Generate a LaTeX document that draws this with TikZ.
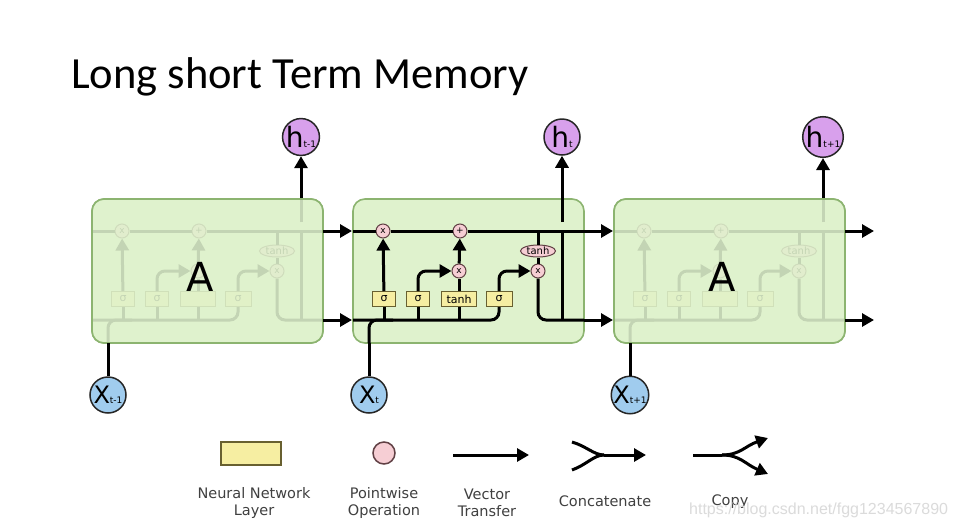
\documentclass[tikz,border=0pt]{standalone}
\usepackage{fontspec}
\setmainfont{DejaVu Sans}
\newfontfamily\titlefont{Carlito}
\newfontfamily\markfont{Liberation Sans}
\usetikzlibrary{arrows.meta,shapes.geometric}

\definecolor{cellfill}{RGB}{223,242,205}
\definecolor{cellline}{RGB}{140,180,112}
\definecolor{layerfill}{RGB}{246,238,162}
\definecolor{layerline}{RGB}{104,96,48}
\definecolor{pwfill}{RGB}{246,206,212}
\definecolor{pwline}{RGB}{96,64,68}
\definecolor{hfill}{RGB}{216,160,236}
\definecolor{xfill}{RGB}{160,204,238}
\definecolor{legtext}{RGB}{64,64,64}

\tikzset{
  cell/.style={draw=cellline, fill=cellfill, line width=1.6pt, rounded corners=12pt,
    minimum width=231pt, minimum height=144pt, inner sep=0pt},
  layer/.style={draw=layerline, fill=layerfill, line width=1pt, minimum width=23pt,
    minimum height=15pt, inner sep=0pt, font=\fontsize{11}{11}\selectfont},
  pw/.style={circle, draw=pwline, fill=pwfill, line width=1pt, minimum size=14pt,
    inner sep=0pt, font=\fontsize{9}{9}\selectfont},
  pwtanh/.style={ellipse, draw=pwline, fill=pwfill, line width=1pt, minimum width=35pt,
    minimum height=12pt, inner sep=0pt, font=\fontsize{10}{10}\selectfont},
  hnode/.style={circle, draw=black!85, fill=hfill, line width=1.5pt, minimum size=36pt, inner sep=0pt},
  xnode/.style={circle, draw=black!85, fill=xfill, line width=1.5pt, minimum size=36pt, inner sep=0pt},
  flow/.style={line width=3pt},
  tip/.style={-{Triangle[length=12pt,width=13pt]}},
  legend/.style={text=legtext, font=\fontsize{14.5}{17.5}\selectfont, align=center, inner sep=0pt}
}

\begin{document}
\begin{tikzpicture}[x=1pt,y=-1pt]
\fill[white] (0,0) rectangle (954,531);
\useasboundingbox (0,0) rectangle (954,531);

\node[anchor=base west, inner sep=0pt, font=\titlefont\fontsize{44.5}{44.5}\selectfont] (title) at (71,88) {Long short Term Memory};

% the three cells
\foreach \nm/\x in {p/92, m/353, n/614}
  \node[cell] (\nm-box) at (\x+115.5,271) {};

% inside of a cell
\foreach \nm/\x/\gl/\il in {p/92/{}/{}, m/353/tanh/x, n/614/{}/{}} {
  \node[pw] (\nm-f) at (\x+30,231) {x};
  \node[pw] (\nm-add) at (\x+107,231) {+};
  \node[pw] (\nm-i) at (\x+106,271) {\il};
  \node[pwtanh] (\nm-tc) at (\x+185,251) {tanh};
  \node[pw] (\nm-o) at (\x+185,271) {x};
  \node[layer] (\nm-s1) at (\x+31,299) {σ};
  \node[layer] (\nm-s2) at (\x+65,299) {σ};
  \node[layer, minimum width=35pt] (\nm-g) at (\x+106,299) {\gl};
  \node[layer, minimum width=26pt] (\nm-s3) at (\x+146,299) {σ};
  \coordinate (\nm-tl) at (\x,231);
  \coordinate (\nm-tr) at (\x+231,231);
  \coordinate (\nm-bl) at (\x,320);
  \coordinate (\nm-br) at (\x+231,320);
  \coordinate (\nm-hb) at (\x+209,320);
  \coordinate (\nm-hc) at (\x+209,231);
  \coordinate (\nm-hg) at (\x+209,222);
  \coordinate (\nm-xb) at (\x+16,343);
  \coordinate (\nm-xm) at (\x+40,320);
  \draw[flow] (\nm-tl) -- (\nm-f) -- (\nm-add) -- (\nm-tr);
  \draw[flow, tip] (\nm-s1) -- (\nm-f);
  \draw[flow, tip, rounded corners=8pt] (\nm-s2) |- (\nm-i);
  \draw[flow] (\nm-g) -- (\nm-i);
  \draw[flow, tip] (\nm-i) -- (\nm-add);
  \draw[flow] (\nm-tc.north) -- (\nm-tc.north |- \nm-tl);
  \draw[flow] (\nm-tc) -- (\nm-o);
  \draw[flow, tip, rounded corners=8pt] (\nm-s3) |- (\nm-o);
  \draw[flow, rounded corners=8pt] (\nm-o) |- (\nm-br);
  \draw[flow, rounded corners=8pt] (\nm-bl) -| (\nm-s3);
  \draw[flow] (\nm-s1) -- (\nm-s1 |- \nm-bl);
  \draw[flow] (\nm-s2) -- (\nm-s2 |- \nm-bl);
  \draw[flow] (\nm-g) -- (\nm-g |- \nm-bl);
  \draw[flow] (\nm-hb) -- (\nm-hc);
  \draw[flow] (\nm-hg) -- (\nm-box.north -| \nm-hg);
  \draw[flow, rounded corners=8pt] (\nm-xb) |- (\nm-xm);
}

% the cells on the sides are covered
\foreach \nm in {p, n} {
  \node[cell, fill opacity=0.88] (\nm-cover) at (\nm-box) {};
  \node[font=\fontsize{40}{40}\selectfont] (\nm-a) at ([xshift=-7pt,yshift=-6pt]\nm-box.center) {A};
}

% inputs, outputs and arrows between cells
\foreach \nm/\x/\s in {p/92/t-1, m/353/t, n/614/t+1} {
  \coordinate (\nm-to) at (\x+260,231);
  \coordinate (\nm-bo) at (\x+260,320);
  \draw[flow, tip] (\nm-tr) -- (\nm-to);
  \draw[flow, tip] (\nm-br) -- (\nm-bo);
  \node[hnode] (h-\nm) at (\x+209,137) {{\fontsize{28}{28}\selectfont h}{\fontsize{9}{9}\selectfont \s}};
  \node[xnode] (x-\nm) at (\x+16,395) {{\fontsize{24}{24}\selectfont X}{\fontsize{9}{9}\selectfont \s}};
  \draw[flow, tip] (\nm-box.north -| \nm-hg) -- (h-\nm);
  \draw[flow] (x-\nm) -- (\nm-xb);
}

% legend
\node[layer, minimum width=60pt, minimum height=23pt, line width=2pt] (lg-layer) at (251,453) {};
\node[pw, minimum size=22pt, line width=1.5pt] (lg-pw) at (384,453) {};
\coordinate (lg-va) at (453,455);
\coordinate (lg-vb) at (529,455);
\draw[flow, tip] (lg-va) -- (lg-vb);
\coordinate (lg-ca) at (572,442);
\coordinate (lg-cb) at (572,470);
\coordinate (lg-cm) at (604,455);
\coordinate (lg-ce) at (646,455);
\draw[flow] (lg-ca) .. controls (586,446) and (594,455) .. (lg-cm);
\draw[flow] (lg-cb) .. controls (586,465) and (594,455) .. (lg-cm);
\draw[flow, tip] (lg-cm) -- (lg-ce);
\coordinate (lg-pa) at (693,455);
\coordinate (lg-pm) at (722,455);
\coordinate (lg-pu) at (768,438);
\coordinate (lg-pd) at (768,474);
\draw[flow] (lg-pa) -- (lg-pm);
\draw[flow, tip] (lg-pm) .. controls (740,455) and (745,446) .. (lg-pu);
\draw[flow, tip] (lg-pm) .. controls (740,455) and (745,464) .. (lg-pd);

\node[legend] (lg-t1) at (254,503) {Neural Network\\Layer};
\node[legend] (lg-t2) at (384,503) {Pointwise\\Operation};
\node[legend] (lg-t3) at (487,503) {Vector\\Transfer};
\node[legend, anchor=base] (lg-t4) at (605,506) {Concatenate};
\node[legend, anchor=base] (lg-t5) at (730,505) {Copy};

\node[anchor=base west, inner sep=0pt, text=black!14, font=\markfont\fontsize{16}{16}\selectfont] (mark) at (689,514) {https://blog.csdn.net/fgg1234567890};
\end{tikzpicture}
\end{document}
